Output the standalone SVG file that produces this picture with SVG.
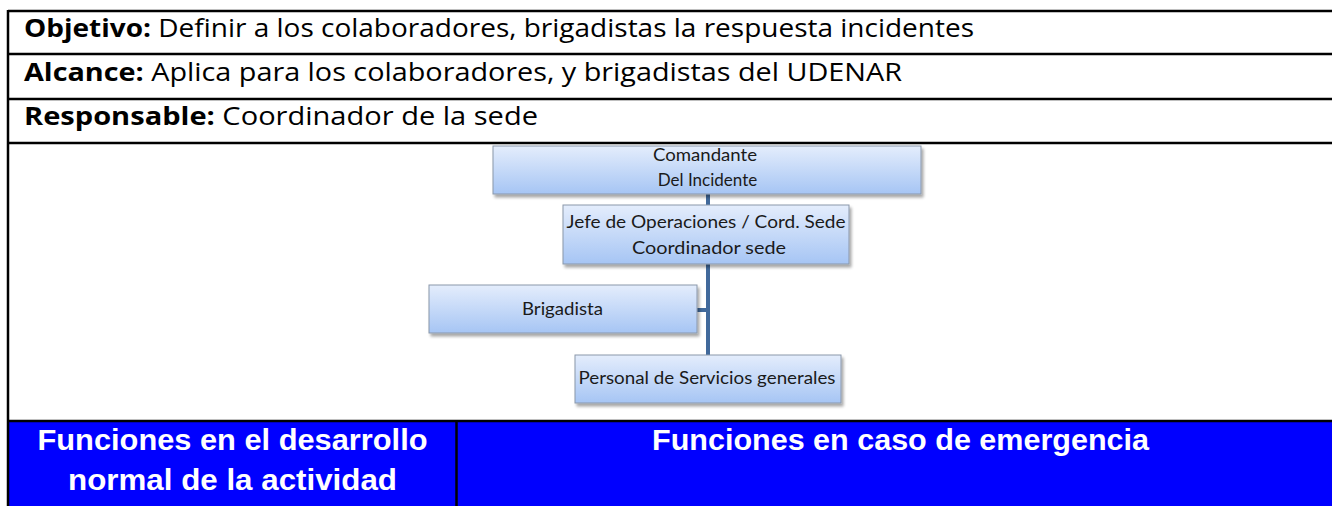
<svg xmlns="http://www.w3.org/2000/svg" width="1332" height="506" viewBox="0 0 1332 506">
  <style>
    .rowtxt { font-family: "Open Sans", "Liberation Sans", sans-serif; font-size: 25px; fill: #000; }
    .b { font-weight: bold; }
    .rule { stroke: #000; stroke-width: 2.5; fill: none; }
    .box { fill: url(#boxGrad); stroke: #8a97aa; stroke-width: 1; filter: url(#shadow); }
    .boxtxt { font-family: "Lato", "Liberation Sans", sans-serif; font-size: 17px; fill: #1a1a1a; text-anchor: middle; }
    .conn { stroke: #41699b; stroke-width: 4; fill: none; }
    .hdr { font-family: "Liberation Sans", Arial, sans-serif; font-size: 30px; font-weight: bold; fill: #fff; }
  </style>
  <defs>
    <linearGradient id="boxGrad" x1="0" y1="0" x2="0" y2="1">
      <stop offset="0" stop-color="#e4edfc"/>
      <stop offset="1" stop-color="#a6c5f4"/>
    </linearGradient>
    <filter id="shadow" x="-10%" y="-20%" width="125%" height="160%">
      <feGaussianBlur in="SourceAlpha" stdDeviation="1.5"/>
      <feOffset dx="2" dy="3" result="o"/>
      <feComponentTransfer><feFuncA type="linear" slope="0.35"/></feComponentTransfer>
      <feMerge><feMergeNode/><feMergeNode in="SourceGraphic"/></feMerge>
    </filter>
  </defs>

  <rect x="0" y="0" width="1332" height="506" fill="#fff"/>

  <!-- header rows -->
  <g id="rows">
    <text class="rowtxt" x="24" y="37" textLength="950" lengthAdjust="spacingAndGlyphs"><tspan class="b">Objetivo:</tspan> Definir a los colaboradores, brigadistas la respuesta incidentes</text>
    <text class="rowtxt" x="24" y="81" textLength="878" lengthAdjust="spacingAndGlyphs"><tspan class="b">Alcance:</tspan> Aplica para los colaboradores, y brigadistas del UDENAR</text>
    <text class="rowtxt" x="24" y="125" textLength="514" lengthAdjust="spacingAndGlyphs"><tspan class="b">Responsable:</tspan> Coordinador de la sede</text>
  </g>

  <!-- blue band -->
  <g id="band">
    <rect x="8" y="421" width="1324" height="85" fill="#0000ff"/>
    <text class="hdr" x="232.5" y="450" text-anchor="middle" textLength="390" lengthAdjust="spacingAndGlyphs">Funciones en el desarrollo</text>
    <text class="hdr" x="232.5" y="490" text-anchor="middle" textLength="329" lengthAdjust="spacingAndGlyphs">normal de la actividad</text>
    <text class="hdr" x="652" y="450" textLength="497" lengthAdjust="spacingAndGlyphs">Funciones en caso de emergencia</text>
  </g>

  <!-- table rules -->
  <g id="rules">
    <line class="rule" x1="8" y1="11" x2="1332" y2="11"/>
    <line class="rule" x1="8" y1="54" x2="1332" y2="54"/>
    <line class="rule" x1="8" y1="99" x2="1332" y2="99"/>
    <line class="rule" x1="8" y1="143" x2="1332" y2="143"/>
    <line class="rule" x1="8" y1="421" x2="1332" y2="421"/>
    <line class="rule" x1="8" y1="10" x2="8" y2="506"/>
    <line class="rule" x1="456.5" y1="421" x2="456.5" y2="506"/>
  </g>

  <!-- connectors -->
  <g id="connectors">
    <line class="conn" x1="708" y1="194" x2="708" y2="355"/>
    <line class="conn" x1="697" y1="310" x2="710" y2="310"/>
  </g>

  <!-- nodes -->
  <g id="node-comandante">
    <rect class="box" x="493" y="146" width="428" height="48"/>
    <text class="boxtxt" x="705" y="161" textLength="104" lengthAdjust="spacingAndGlyphs">Comandante</text>
    <text class="boxtxt" x="707.5" y="186">Del Incidente</text>
  </g>
  <g id="node-jefe">
    <rect class="box" x="563" y="205" width="286" height="59"/>
    <text class="boxtxt" x="706" y="228" textLength="279" lengthAdjust="spacingAndGlyphs">Jefe de Operaciones / Cord. Sede</text>
    <text class="boxtxt" x="709" y="254" textLength="154" lengthAdjust="spacingAndGlyphs">Coordinador sede</text>
  </g>
  <g id="node-brigadista">
    <rect class="box" x="429" y="285" width="268" height="48"/>
    <text class="boxtxt" x="562.5" y="315" textLength="81" lengthAdjust="spacingAndGlyphs">Brigadista</text>
  </g>
  <g id="node-personal">
    <rect class="box" x="575" y="355" width="266" height="48"/>
    <text class="boxtxt" x="707" y="384" textLength="257" lengthAdjust="spacingAndGlyphs">Personal de Servicios generales</text>
  </g>
</svg>
